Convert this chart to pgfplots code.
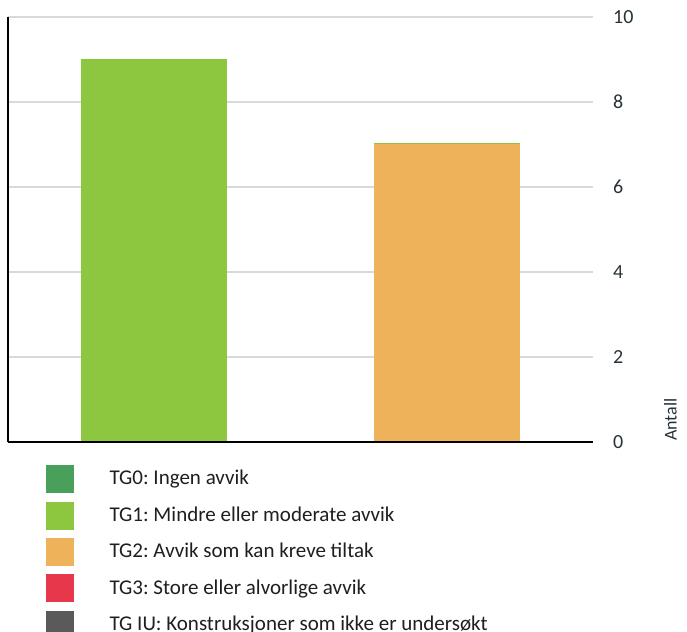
\documentclass[border=0pt]{standalone}
\usepackage{pgfplots}
\pgfplotsset{compat=1.18}
\usepackage{fontspec}
\setmainfont{Carlito}
\frenchspacing
\definecolor{tgzero}{RGB}{72,160,90}
\definecolor{tgone}{RGB}{141,198,63}
\definecolor{tgtwo}{RGB}{237,178,90}
\definecolor{tgthree}{RGB}{230,55,75}
\definecolor{tgiu}{RGB}{90,90,90}
\definecolor{ticktext}{RGB}{38,50,56}
\definecolor{gridgray}{RGB}{217,217,217}
\begin{document}
\begin{tikzpicture}
\begin{axis}[
  name=ax,
  at={(0,0)}, anchor=south west,
  scale only axis, width=585bp, height=425bp,
  ybar stacked, bar width=0.5,
  xmin=-0.5, xmax=1.5, ymin=0, ymax=10,
  xtick=\empty,
  ytick={0,2,4,6,8,10},
  yticklabel pos=right,
  major tick length=0pt,
  ymajorgrids, grid style={gridgray, line width=1.2bp},
  axis line style={draw=none},
  /pgf/number format/assume math mode=true,
  yticklabel style={font=\fontsize{20bp}{24bp}\selectfont, text=ticktext, anchor=west, inner sep=0pt, xshift=20bp},
  legend style={at={(axis description cs:0,0)}, anchor=north west, xshift=38bp, yshift=-23bp, draw=none, inner sep=0pt, row sep=9bp, column sep=36bp, font=\fontsize{21bp}{25bp}\selectfont, text=black!88, nodes={inner sep=0pt}},
  legend cell align=left,
  after end axis/.code={
    \draw[black, line width=2.2bp] (rel axis cs:0,0) -- (rel axis cs:0,1);
    \draw[black, line width=2.6bp] (rel axis cs:0,0) -- (rel axis cs:1,0);
    \path (rel axis cs:1,0) ++(84bp,1bp) node[rotate=90, anchor=south west, inner sep=0pt, font=\fontsize{18bp}{22bp}\selectfont, text=ticktext] {Antall};
  },
]
\addplot[fill=tgone, draw=none, forget plot] coordinates {(0,9) (1,0)};
\addplot[fill=tgtwo, draw=none, forget plot] coordinates {(0,0) (1,7)};
\addplot[fill=tgone, draw=none, forget plot] coordinates {(0,0) (1,0.035)};
\addlegendimage{legend image code/.code={\fill[tgzero] (0bp,-14bp) rectangle (27bp,13bp);}}
\addlegendentry{TG0: Ingen avvik}
\addlegendimage{legend image code/.code={\fill[tgone] (0bp,-14bp) rectangle (27bp,13bp);}}
\addlegendentry{TG1: Mindre eller moderate avvik}
\addlegendimage{legend image code/.code={\fill[tgtwo] (0bp,-14bp) rectangle (27bp,13bp);}}
\addlegendentry{TG2: Avvik som kan kreve tiltak}
\addlegendimage{legend image code/.code={\fill[tgthree] (0bp,-14bp) rectangle (27bp,13bp);}}
\addlegendentry{TG3: Store eller alvorlige avvik}
\addlegendimage{legend image code/.code={\fill[tgiu] (0bp,-14bp) rectangle (27bp,13bp);}}
\addlegendentry{TG IU: Konstruksjoner som ikke er undersøkt}
\end{axis}
\pgfresetboundingbox
\path (-8bp,-190bp) rectangle (679bp,442bp);
\end{tikzpicture}
\end{document}
